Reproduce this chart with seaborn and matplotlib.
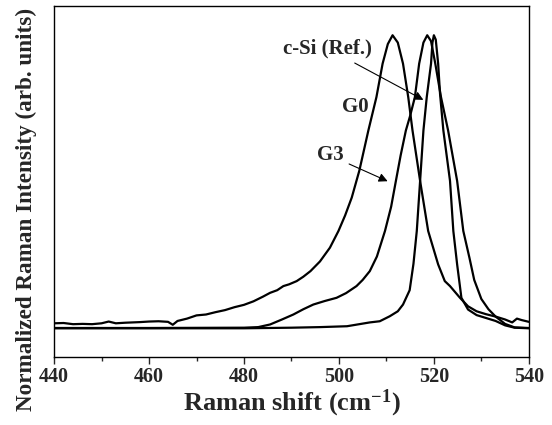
import numpy as np
import pandas as pd
import matplotlib
matplotlib.use('Agg')
import matplotlib.pyplot as plt
from matplotlib.ticker import MultipleLocator
import seaborn as sns

# Raman spectra (normalized intensity)
g0_shift = [440, 442, 444, 446, 448, 450, 451.5, 453, 455, 458, 460, 462, 464, 465, 466, 468,
            470, 472, 474, 476, 478, 480, 482, 484, 485.5, 487, 488.3, 489.5, 491.1, 492.5, 494,
            496, 498.1, 499.9, 501.3, 502.7, 504.3, 506.2, 507.9, 509.2, 510.3, 511.3, 512.4,
            513.5, 514.6, 515.5, 517.1, 518.8, 520.9, 522.3, 523.4, 525.5, 527.2, 529, 531,
            533, 535, 536.5, 537.5, 538.5, 540]
g0_int = [0.017, 0.018, 0.014, 0.015, 0.014, 0.017, 0.023, 0.017, 0.019, 0.021, 0.023, 0.024,
          0.022, 0.012, 0.025, 0.033, 0.044, 0.047, 0.055, 0.062, 0.072, 0.080, 0.092, 0.108,
          0.121, 0.130, 0.144, 0.150, 0.161, 0.176, 0.195, 0.228, 0.275, 0.332, 0.385, 0.446,
          0.538, 0.675, 0.789, 0.903, 0.970, 1.000, 0.975, 0.903, 0.789, 0.675, 0.503, 0.332,
          0.218, 0.161, 0.144, 0.104, 0.075, 0.058, 0.048, 0.040, 0.030, 0.020, 0.033, 0.028,
          0.022]

g3_shift = [440, 460, 480, 483, 485.5, 488, 490.4, 492.5, 494.6, 497, 499.5, 501.5, 503.7,
            505, 506.5, 508, 509.7, 511, 512.0, 513, 514.1, 515, 516.0, 516.9, 517.8, 518.6,
            519.4, 520.3, 521.5, 523.0, 524.9, 526.2, 527.5, 528.5, 530, 531.5, 533, 535, 537,
            540]
g3_int = [0.001, 0.001, 0.002, 0.004, 0.013, 0.030, 0.047, 0.065, 0.081, 0.093, 0.104, 0.120,
          0.144, 0.165, 0.195, 0.245, 0.332, 0.415, 0.503, 0.590, 0.675, 0.725, 0.789, 0.903,
          0.975, 1.000, 0.980, 0.903, 0.789, 0.675, 0.503, 0.332, 0.240, 0.165, 0.100, 0.065,
          0.040, 0.015, 0.003, 0.001]

csi_shift = [440, 460, 480, 490, 496, 501.7, 506.5, 508.6, 510.7, 512.4, 513.5, 514.9, 515.7,
             516.4, 517.1, 517.8, 518.5, 519.4, 519.7, 520.0, 520.4, 520.9, 521.3, 522.0,
             523.4, 524.1, 524.9, 525.8, 527.2, 529, 531, 533, 535, 537, 540]
csi_int = [0.000, 0.000, 0.000, 0.002, 0.004, 0.007, 0.020, 0.024, 0.041, 0.058, 0.081, 0.130,
           0.220, 0.332, 0.503, 0.675, 0.789, 0.903, 0.975, 1.000, 0.985, 0.903, 0.800, 0.675,
           0.503, 0.332, 0.218, 0.104, 0.064, 0.045, 0.035, 0.025, 0.010, 0.002, 0.000]

df = pd.concat([
    pd.DataFrame({'shift': g0_shift, 'intensity': g0_int, 'sample': 'G0'}),
    pd.DataFrame({'shift': g3_shift, 'intensity': g3_int, 'sample': 'G3'}),
    pd.DataFrame({'shift': csi_shift, 'intensity': csi_int, 'sample': 'c-Si (Ref.)'}),
])

sns.set_style('white')
plt.rcParams['font.family'] = ['Liberation Serif', 'DejaVu Serif']
plt.rcParams['font.weight'] = 'bold'
plt.rcParams['mathtext.fontset'] = 'custom'
plt.rcParams['mathtext.rm'] = 'Liberation Serif:bold'
plt.rcParams['mathtext.bf'] = 'Liberation Serif:bold'
plt.rcParams['mathtext.default'] = 'rm'

fig = plt.figure(figsize=(5.52, 4.25), dpi=100)
ax = fig.add_axes([0.098, 0.16, 0.86, 0.826])

sns.lineplot(data=df, x='shift', y='intensity', units='sample', estimator=None,
             color='black', linewidth=1.6, sort=False, ax=ax)

ax.set_xlim(440, 540)
ax.set_ylim(-0.098, 1.10)
ax.xaxis.set_major_locator(MultipleLocator(20))
ax.xaxis.set_minor_locator(MultipleLocator(10))
ax.tick_params(axis='x', which='major', direction='out', length=5, width=1,
               labelsize=14.5, bottom=True, top=False, pad=2)
ax.tick_params(axis='x', which='minor', direction='out', length=3, width=1, bottom=True)
ax.tick_params(axis='y', left=False, labelleft=False)
for lbl in ax.get_xticklabels():
    lbl.set_fontweight('bold')
for sp in ax.spines.values():
    sp.set_color('black')
    sp.set_linewidth(1.0)

ax.set_xlabel('Raman shift (cm$^{-1}$)', fontsize=19, fontweight='bold', labelpad=1)
ax.set_ylabel('')
fig.text(0.047, 0.508, 'Normalized Raman Intensity (arb. units)', rotation=90,
         fontsize=16.7, fontweight='bold', ha='center', va='center')

arrow = dict(arrowstyle='-|>', color='black', lw=0.8, mutation_scale=13)
ax.annotate('c-Si (Ref.)', xy=(518.3, 0.775), xytext=(497.6, 0.955), fontsize=15,
            fontweight='bold', ha='center', va='center', arrowprops=arrow)
ax.text(503.5, 0.755, 'G0', fontsize=15, fontweight='bold', ha='center', va='center')
ax.annotate('G3', xy=(510.8, 0.498), xytext=(498.1, 0.59), fontsize=15,
            fontweight='bold', ha='center', va='center', arrowprops=arrow)

fig.savefig('out.png', dpi=100)
